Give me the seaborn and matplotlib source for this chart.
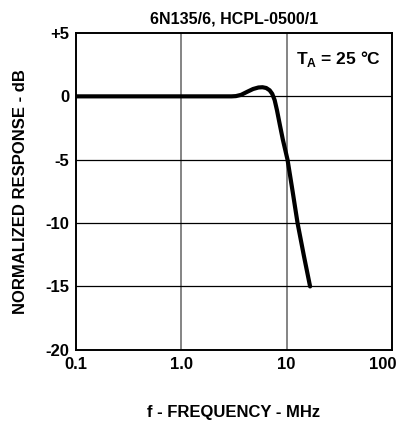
import matplotlib
matplotlib.use("Agg")
import matplotlib.pyplot as plt
import matplotlib.transforms as mtransforms
import seaborn as sns
import pandas as pd

freq_mhz = [0.1, 0.5, 1.0, 2.0, 3.0, 3.3, 3.7, 4.2, 4.8, 5.4, 5.9, 6.4, 6.9, 7.3, 7.7, 8.1, 8.6, 9.2, 10.2, 11.4, 12.7, 14.6, 16.7]
response_db = [0.0, 0.0, 0.0, 0.0, 0.0, 0.02, 0.12, 0.35, 0.58, 0.70, 0.72, 0.66, 0.48, 0.20, -0.3, -1.1, -2.2, -3.4, -5.0, -7.5, -10.0, -12.6, -15.0]

x_ticks = [0.1, 1.0, 10, 100]
x_tick_labels = ["0.1", "1.0", "10", "100"]
y_ticks = [-20, -15, -10, -5, 0, 5]
y_tick_labels = ["-20", "-15", "-10", "-5", "0", "+5"]

title = "6N135/6, HCPL-0500/1"
x_label = "f - FREQUENCY - MHz"
y_label = "NORMALIZED RESPONSE - dB"
annotation = "T$_\\mathbf{A}$ = 25 °C"

sns.set_theme(style="white")
plt.rcParams['font.family'] = ['Liberation Sans', 'DejaVu Sans']
plt.rcParams['font.weight'] = 'bold'
plt.rcParams['text.color'] = 'black'
plt.rcParams['axes.labelcolor'] = 'black'
plt.rcParams['xtick.color'] = 'black'
plt.rcParams['ytick.color'] = 'black'
plt.rcParams['xtick.labelcolor'] = 'black'
plt.rcParams['ytick.labelcolor'] = 'black'
plt.rcParams['mathtext.fontset'] = 'custom'
plt.rcParams['mathtext.bf'] = 'Liberation Sans:bold'
plt.rcParams['mathtext.rm'] = 'Liberation Sans:bold'

df = pd.DataFrame({"f": freq_mhz, "db": response_db})

fig = plt.figure(figsize=(4.02, 4.23), dpi=100)
ax = fig.add_axes([0.189, 0.173, 0.786, 0.749])

sns.lineplot(data=df, x="f", y="db", ax=ax, color="black", linewidth=3.0, zorder=5)

ax.set_xscale("log")
ax.set_xlim(0.1, 100)
ax.set_ylim(-20, 5)
ax.set_xticks(x_ticks)
ax.set_xticklabels(x_tick_labels)
ax.minorticks_off()
ax.set_yticks(y_ticks)
ax.set_yticklabels(y_tick_labels)
ax.tick_params(axis="both", labelsize=12, length=0, pad=5, labelcolor="black")
for lbl in ax.get_xticklabels() + ax.get_yticklabels():
    lbl.set_fontweight("bold")
last = ax.get_xticklabels()[-1]
last.set_transform(last.get_transform() + mtransforms.ScaledTranslation(-0.09, 0, fig.dpi_scale_trans))

for xv in [1.0, 10]:
    ax.axvline(xv, color="#707070", linewidth=1.2, zorder=1)
for yv in [-15, -10, -5, 0]:
    ax.axhline(yv, color="black", linewidth=0.9, zorder=1)

for s in ax.spines.values():
    s.set_color("black")
    s.set_linewidth(1.4)
    s.set_visible(True)

ax.set_xlabel(x_label, fontsize=12, fontweight="bold", labelpad=24, color="black")
ax.set_ylabel(y_label, fontsize=12, fontweight="bold", labelpad=12, color="black")
ax.set_title(title, fontsize=11.5, fontweight="bold", pad=7, color="black")
ax.text(0.965, 0.95, annotation, transform=ax.transAxes, ha="right", va="top",
        fontsize=12.5, fontweight="bold", color="black")

fig.savefig("out.png", dpi=100)
